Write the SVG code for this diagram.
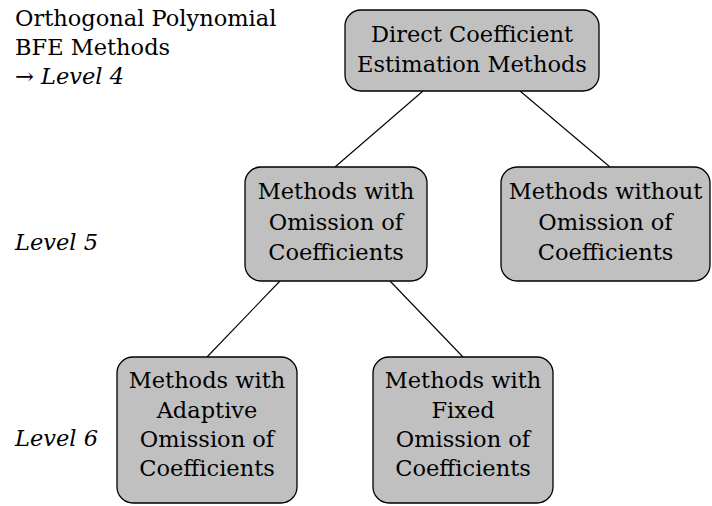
<svg xmlns="http://www.w3.org/2000/svg" width="712" height="506" viewBox="0 0 712 506">
<style>
.box{fill:#c0c0c0;stroke:#000;stroke-width:1.3}
text{font-family:'DejaVu Serif','Liberation Serif',serif;font-size:22.5px;fill:#000}
.t{text-anchor:middle}
.i{font-style:italic}
.c{stroke:#000;stroke-width:1.1;fill:none}
</style>
<rect width="712" height="506" fill="#fff"/>
<g id="labels">
<text x="15" y="26">Orthogonal Polynomial</text>
<text x="15" y="55">BFE Methods</text>
<text x="15" y="84">→ <tspan class="i">Level 4</tspan></text>
<text class="i" x="15" y="250">Level 5</text>
<text class="i" x="15" y="446">Level 6</text>
</g>
<g id="connectors">
<line class="c" x1="423" y1="91" x2="335" y2="167"/>
<line class="c" x1="520" y1="91" x2="610" y2="167"/>
<line class="c" x1="280" y1="281" x2="207" y2="357"/>
<line class="c" x1="390" y1="281" x2="463" y2="357"/>
</g>
<g id="n-direct">
<rect class="box" x="345" y="10" width="254" height="81" rx="16"/>
<text class="t" x="472" y="42">Direct Coefficient</text>
<text class="t" x="472" y="72">Estimation Methods</text>
</g>
<g id="n-with">
<rect class="box" x="245" y="167" width="182" height="114" rx="16"/>
<text class="t" x="336" y="199">Methods with</text>
<text class="t" x="336" y="230">Omission of</text>
<text class="t" x="336" y="260">Coefficients</text>
</g>
<g id="n-without">
<rect class="box" x="501" y="167" width="209" height="114" rx="16"/>
<text class="t" x="605.5" y="199">Methods without</text>
<text class="t" x="605.5" y="230">Omission of</text>
<text class="t" x="605.5" y="260">Coefficients</text>
</g>
<g id="n-adaptive">
<rect class="box" x="117" y="357" width="180" height="146" rx="16"/>
<text class="t" x="207" y="388">Methods with</text>
<text class="t" x="207" y="418">Adaptive</text>
<text class="t" x="207" y="447">Omission of</text>
<text class="t" x="207" y="476">Coefficients</text>
</g>
<g id="n-fixed">
<rect class="box" x="373" y="357" width="180" height="146" rx="16"/>
<text class="t" x="463" y="388">Methods with</text>
<text class="t" x="463" y="418">Fixed</text>
<text class="t" x="463" y="447">Omission of</text>
<text class="t" x="463" y="476">Coefficients</text>
</g>
</svg>
